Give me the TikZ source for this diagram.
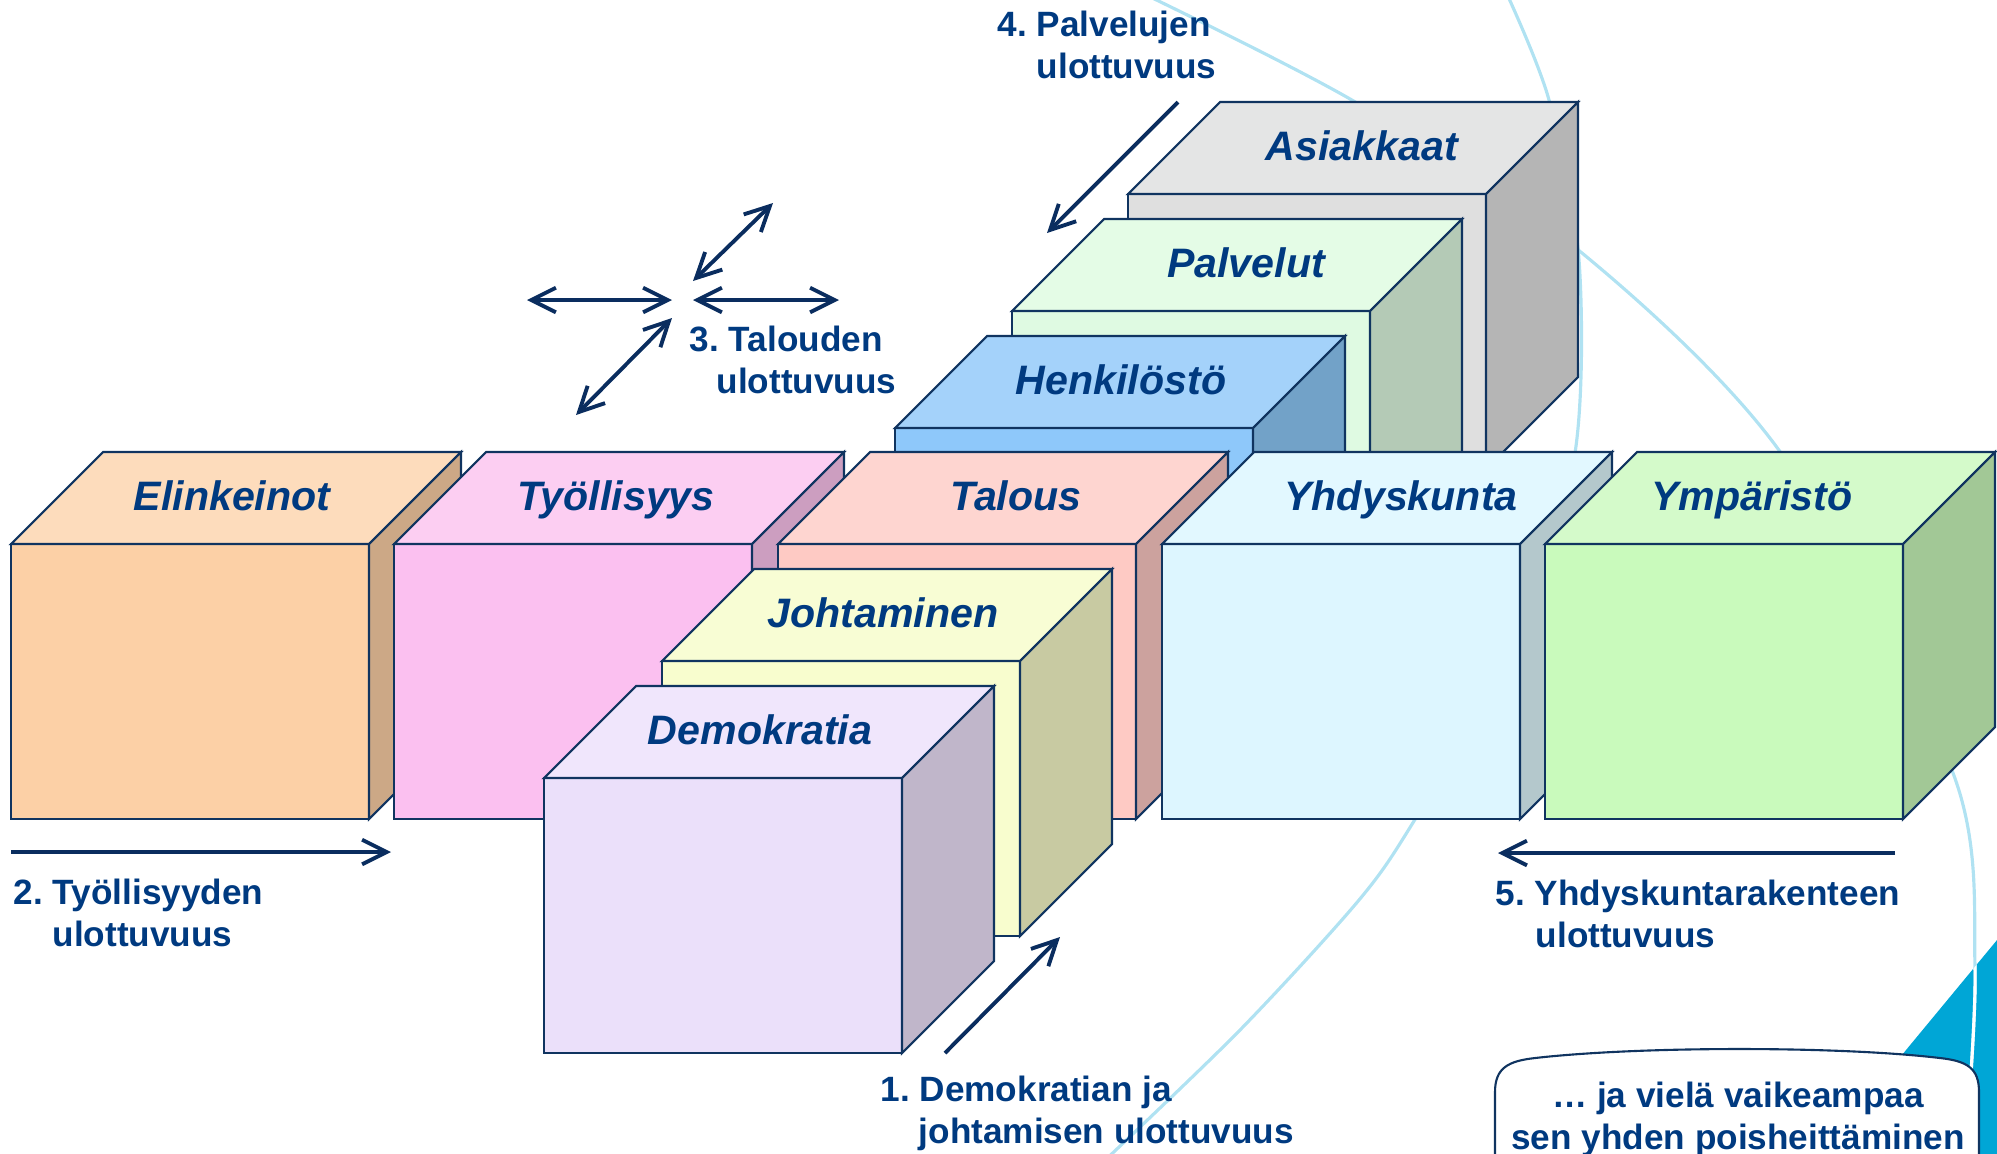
\documentclass[tikz,border=0pt]{standalone}
\usepackage{fontspec}
\setmainfont{Liberation Sans}
\usepackage{color}
\usetikzlibrary{arrows.meta}
\frenchspacing

\definecolor{tekstisin}{RGB}{0,58,128}
\definecolor{reuna}{RGB}{16,52,96}
\definecolor{nuoli}{RGB}{10,45,95}
\definecolor{kaari}{RGB}{176,226,242}
\definecolor{syaani}{RGB}{0,166,214}
% kuutiot: A = etupinta, B = kansi, C = kylki
\definecolor{elinA}{RGB}{252,208,166}\definecolor{elinB}{RGB}{253,220,188}\definecolor{elinC}{RGB}{204,168,134}
\definecolor{tyoA}{RGB}{251,192,240}\definecolor{tyoB}{RGB}{252,206,242}\definecolor{tyoC}{RGB}{204,158,192}
\definecolor{talA}{RGB}{254,202,196}\definecolor{talB}{RGB}{254,213,208}\definecolor{talC}{RGB}{204,162,158}
\definecolor{yhdA}{RGB}{221,246,255}\definecolor{yhdB}{RGB}{226,248,255}\definecolor{yhdC}{RGB}{180,200,204}
\definecolor{ympA}{RGB}{201,250,188}\definecolor{ympB}{RGB}{212,250,202}\definecolor{ympC}{RGB}{162,200,150}
\definecolor{johA}{RGB}{248,253,206}\definecolor{johB}{RGB}{248,253,212}\definecolor{johC}{RGB}{200,202,162}
\definecolor{demA}{RGB}{235,224,250}\definecolor{demB}{RGB}{240,230,252}\definecolor{demC}{RGB}{192,182,202}
\definecolor{henA}{RGB}{142,200,250}\definecolor{henB}{RGB}{164,210,250}\definecolor{henC}{RGB}{114,162,200}
\definecolor{palA}{RGB}{223,250,226}\definecolor{palB}{RGB}{228,252,230}\definecolor{palC}{RGB}{180,202,182}
\definecolor{asiA}{RGB}{223,223,223}\definecolor{asiB}{RGB}{228,229,229}\definecolor{asiC}{RGB}{181,181,181}

\tikzset{
  reunaviiva/.style={draw=reuna, line width=0.6pt},
  ulottuvuus/.style={draw=nuoli, line width=1.1pt, -{Straight Barb[length=7pt,width=7pt]}},
  molemmat/.style={draw=nuoli, line width=1.1pt, {Straight Barb[length=7pt,width=7pt]}-{Straight Barb[length=7pt,width=7pt]}},
  selite/.style={text=tekstisin, font=\fontsize{10}{11.8}\selectfont\bfseries, align=left, anchor=base west, inner sep=0pt},
  kuplateksti/.style={text=tekstisin, font=\fontsize{10}{11.8}\selectfont\bfseries, align=center, anchor=base, inner sep=0pt},
  kuutioteksti/.style={text=tekstisin, font=\fontsize{11.7}{14}\selectfont\bfseries\itshape, anchor=base, inner sep=0pt},
  taustakaari/.style={draw=kaari, line width=0.9pt}
}

% #1,#2 etupinnan vasen yläkulma, #3 värin etuliite, #4 tekstin x-siirto, #5 teksti
\newcommand{\kuutio}[5]{%
  \filldraw[reunaviiva, fill=#3A] (#1,#2) rectangle ++(358,275);
  \filldraw[reunaviiva, fill=#3B] (#1,#2) -- ++(92,-92) -- ++(358,0) -- ++(-92,92) -- cycle;
  \filldraw[reunaviiva, fill=#3C] (#1+358,#2) -- ++(92,-92) -- ++(0,275) -- ++(-92,92) -- cycle;
  \node[kuutioteksti] (#3) at (#1+#4,#2-34) {#5};
}

\begin{document}
\begin{tikzpicture}[x=0.01cm,y=-0.01cm]
\useasboundingbox (0,0) rectangle (1997,1153);

% tausta
\fill[syaani] (1997,940) -- (1906,1050) -- (1815,1165) -- (1997,1165) -- cycle;
\draw[taustakaari] plot[smooth] coordinates {(1140,-8) (1357,103) (1582,253) (1781,453) (1953,773) (1975,967) (1964,1165)};
\begin{scope}
\clip (1997,940) -- (1906,1050) -- (1815,1165) -- (1997,1165) -- cycle;
\draw[white, line width=0.9pt] plot[smooth] coordinates {(1140,-8) (1357,103) (1582,253) (1781,453) (1953,773) (1975,967) (1964,1165)};
\end{scope}
\draw[taustakaari] plot[smooth] coordinates {(1506,-8) (1549,100) (1579,260) (1575,453) (1520,640) (1414,821) (1359,900) (1240,1030) (1100,1165)};

% takimmaiset
\kuutio{1128}{194}{asi}{234}{Asiakkaat}
\kuutio{1012}{311}{pal}{234}{Palvelut}
\kuutio{895}{428}{hen}{226}{Henkilöstö}

% rivi
\kuutio{11}{544}{elin}{221}{Elinkeinot}
\kuutio{394}{544}{tyo}{222}{Työllisyys}
\kuutio{778}{544}{tal}{238}{Talous}
\kuutio{1162}{544}{yhd}{239}{Yhdyskunta}
\kuutio{1545}{544}{ymp}{207}{Ympäristö}

% etummaiset
\kuutio{662}{661}{joh}{221}{Johtaminen}
\kuutio{544}{778}{dem}{216}{Demokratia}

% nuolet
\coordinate (n4a) at (1178,102);
\coordinate (n4b) at (1047,233);
\draw[ulottuvuus] (n4a) -- (n4b);

\coordinate (t1) at (527,300);
\coordinate (t2) at (672,300);
\coordinate (t3) at (693,300);
\coordinate (t4) at (839,300);
\coordinate (t5) at (693,281);
\coordinate (t6) at (773,203);
\coordinate (t7) at (576,415);
\coordinate (t8) at (672,318);
\draw[molemmat] (t1) -- (t2);
\draw[molemmat] (t3) -- (t4);
\draw[molemmat] (t5) -- (t6);
\draw[molemmat] (t7) -- (t8);

\coordinate (n2a) at (11,852);
\coordinate (n2b) at (391,852);
\draw[ulottuvuus] (n2a) -- (n2b);

\coordinate (n5a) at (1895,853);
\coordinate (n5b) at (1498,853);
\draw[ulottuvuus] (n5a) -- (n5b);

\coordinate (n1a) at (945,1053);
\coordinate (n1b) at (1060,937);
\draw[ulottuvuus] (n1a) -- (n1b);

% selitteet (ankkuri = viimeisen rivin perusviiva)
\node[selite] (s4) at (997,78) {4. Palvelujen\\\hspace*{0.39cm}ulottuvuus};
\node[selite] (s3) at (689,393) {3. Talouden\\\hspace*{0.27cm}ulottuvuus};
\node[selite] (s2) at (13,946) {2. Työllisyyden\\\hspace*{0.39cm}ulottuvuus};
\node[selite] (s5) at (1495,947) {5. Yhdyskuntarakenteen\\\hspace*{0.40cm}ulottuvuus};
\node[selite] (s1) at (880,1143) {1. Demokratian ja\\\hspace*{0.38cm}johtamisen ulottuvuus};

% kupla
\filldraw[reunaviiva, fill=white] (1495,1170) -- (1495,1092) .. controls (1495,1068) and (1508,1061) .. (1535,1058)
  .. controls (1640,1046) and (1840,1046) .. (1940,1058) .. controls (1967,1061) and (1979,1068) .. (1979,1092) -- (1979,1170);
\node[kuplateksti] (kupla) at (1738,1149) {… ja vielä vaikeampaa\\sen yhden poisheittäminen};

\end{tikzpicture}
\end{document}
